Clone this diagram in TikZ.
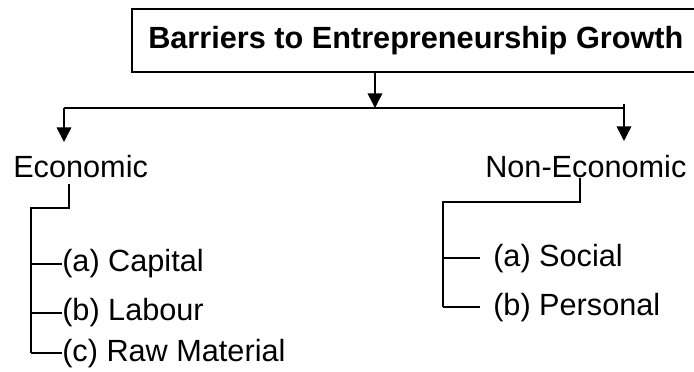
\documentclass[tikz,border=0pt]{standalone}
\usepackage{fontspec}
\setmainfont{Liberation Sans}
\usetikzlibrary{arrows.meta}
\begin{document}
\begin{tikzpicture}[x=0.75pt,y=-0.75pt,
  line/.style={line width=1.1pt,line cap=butt},
  arr/.style={line width=1.1pt,-{Triangle[width=11pt,length=11pt]}},
  lbl/.style={inner sep=0pt,font=\fontsize{23}{27}\selectfont,anchor=base west},
  titlebox/.style={draw,line width=1.4pt,minimum width=565*0.75pt,minimum height=63*0.75pt,inner sep=0pt,font=\fontsize{23}{27}\selectfont\bfseries}]
\useasboundingbox (0,0) rectangle (694,372);
\node[titlebox] (title) at (414.5,40.5) {\hspace*{2pt}Barriers to Entrepreneurship Growth};
\node[lbl] (econ) at (13,177) {Economic};
\node[lbl] (nonecon) at (485,177) {Non-Economic};
\node[lbl] (cap) at (62,271) {(a) Capital};
\node[lbl] (lab) at (62,320) {(b) Labour};
\node[lbl] (raw) at (62,361) {(c) Raw Material};
\node[lbl] (soc) at (493,266) {(a) Social};
\node[lbl] (per) at (493,315) {(b) Personal};
% junctions
\coordinate (mid) at (375,108);
\coordinate (hl) at (64,108);
\coordinate (hr) at (624,108);
\coordinate (tl) at (64,142);
\coordinate (tr) at (624,141);
\coordinate (ea) at (69,184);
\coordinate (eb) at (69,208);
\coordinate (ec) at (31,208);
\coordinate (na) at (580,178);
\coordinate (nb) at (580,202);
\coordinate (nc) at (443,202);
\coordinate (nd) at (443,307);
\coordinate (ns) at (443,258);
\coordinate (se) at (480,258);
\coordinate (pe) at (480,307);
% top connectors
\draw[arr] (title.south -| mid) -- (mid);
\draw[line] (hl) -- (hr);
\draw[arr] (hl) -- (tl);
\draw[arr] ([yshift=3pt]hr) -- (tr);
% economic tree
\draw[line] (ea) -- (eb) -- (ec) -- (ec |- 0,353);
\draw[line] (ec |- 0,264) -- (cap.west |- 0,264);
\draw[line] (ec |- 0,313) -- (lab.west |- 0,313);
\draw[line] (ec |- 0,353) -- (raw.west |- 0,353);
% non-economic tree
\draw[line] (na) -- (nb) -- (nc) -- (nd);
\draw[line] (ns) -- (se);
\draw[line] (nd) -- (pe);
\end{tikzpicture}
\end{document}
